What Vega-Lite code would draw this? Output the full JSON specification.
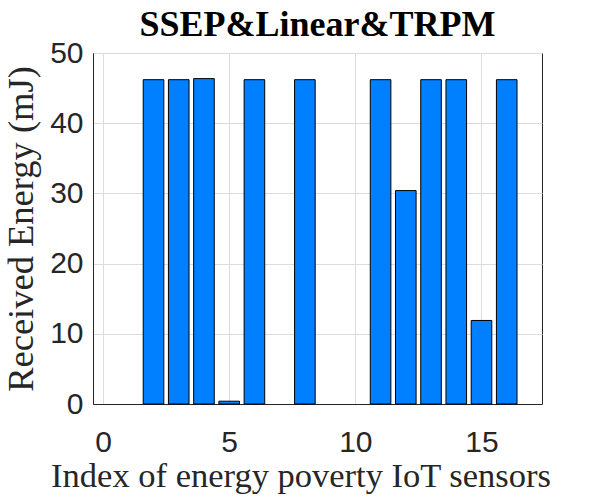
{
  "$schema": "https://vega.github.io/schema/vega-lite/v6.json",
  "autosize": "none",
  "padding": {"left": 93, "top": 53, "right": 58, "bottom": 96},
  "width": 449,
  "height": 351,
  "background": "white",
  "title": {
    "text": "SSEP&Linear&TRPM",
    "font": "Liberation Serif",
    "fontSize": 36,
    "fontWeight": "bold",
    "color": "black",
    "frame": "group",
    "offset": -6
  },
  "data": {
    "values": [
      {"sensor": 1, "energy": 0},
      {"sensor": 2, "energy": 46.2},
      {"sensor": 3, "energy": 46.2},
      {"sensor": 4, "energy": 46.35},
      {"sensor": 5, "energy": 0.4},
      {"sensor": 6, "energy": 46.2},
      {"sensor": 7, "energy": 0},
      {"sensor": 8, "energy": 46.2},
      {"sensor": 9, "energy": 0},
      {"sensor": 10, "energy": 0},
      {"sensor": 11, "energy": 46.2},
      {"sensor": 12, "energy": 30.4},
      {"sensor": 13, "energy": 46.2},
      {"sensor": 14, "energy": 46.2},
      {"sensor": 15, "energy": 11.9},
      {"sensor": 16, "energy": 46.2}
    ]
  },
  "mark": {"type": "bar", "size": 20.6, "color": "#0080ff", "stroke": "black", "strokeWidth": 1},
  "encoding": {
    "x": {
      "field": "sensor",
      "type": "quantitative",
      "title": "Index of energy poverty IoT sensors",
      "scale": {"domain": [-0.2, 17.2], "nice": false, "zero": false},
      "axis": {"values": [0, 5, 10, 15], "labelPadding": 23, "titlePadding": 2, "titleFontSize": 34.5, "titleX": 207.5}
    },
    "y": {
      "field": "energy",
      "type": "quantitative",
      "title": "Received Energy (mJ)",
      "scale": {"domain": [0, 50], "nice": false},
      "axis": {"values": [0, 10, 20, 30, 40, 50], "labelPadding": 10, "titlePadding": 9, "titleFontSize": 36.5}
    },
    "strokeOpacity": {
      "condition": {"test": "datum.energy == 0", "value": 0},
      "value": 1
    }
  },
  "config": {
    "view": {"stroke": "#262626", "strokeWidth": 1},
    "axis": {
      "ticks": false,
      "domainColor": "#262626",
      "gridColor": "#dcdcdc",
      "gridWidth": 1,
      "labelFont": "Liberation Sans",
      "labelFontSize": 30,
      "labelColor": "#262626",
      "titleFont": "Liberation Serif",
      "titleFontWeight": "normal",
      "titleColor": "#262626"
    }
  }
}
